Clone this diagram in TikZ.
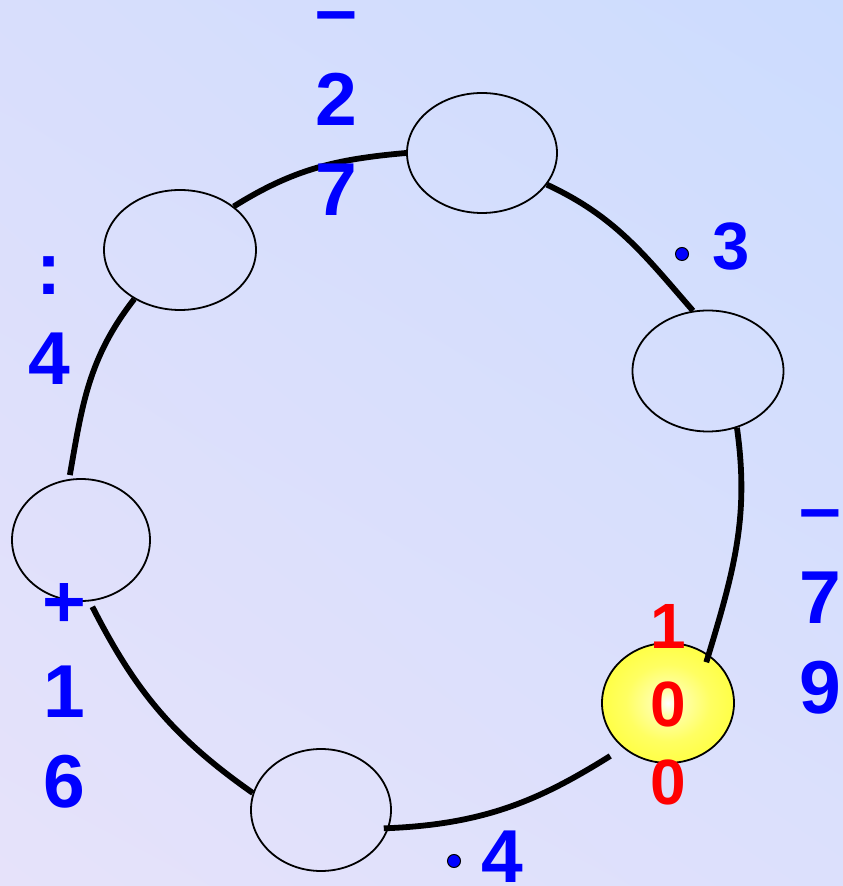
\documentclass[tikz,border=0pt]{standalone}
\usepackage{fontspec}
\setmainfont{Liberation Sans}
\usetikzlibrary{shapes.geometric,shadings}
\tikzset{>=latex}
\definecolor{bgLL}{HTML}{E6E2FA}
\definecolor{bgLR}{HTML}{DCE0FC}
\definecolor{bgUL}{HTML}{D8DEFC}
\definecolor{bgUR}{HTML}{CCDCFE}
\definecolor{ylw}{RGB}{255,255,70}
\pgfdeclareradialshading{yellowglow}{\pgfpoint{0bp}{0bp}}{color(0bp)=(white); color(5bp)=(ylw!45!white); color(16bp)=(ylw!85!white); color(25bp)=(ylw); color(50bp)=(ylw)}

\begin{document}
\begin{tikzpicture}[x=1pt,y=1pt]
\useasboundingbox (0,0) rectangle (843,886);
\shade[lower left=bgLL,lower right=bgLR,upper left=bgUL,upper right=bgUR] (0,0) rectangle (843,886);
\begin{scope}[every node/.style={ellipse,draw,line width=1.8pt,inner sep=0pt}]
\node[minimum width=150,minimum height=120] (E1) at (482,733) {};
\node[minimum width=152,minimum height=120] (E2) at (180,636) {};
\node[minimum width=151,minimum height=121] (E3) at (708,515) {};
\node[minimum width=138,minimum height=122] (E4) at (81,346) {};
\node[minimum width=140,minimum height=122] (E5) at (321,76) {};
\node[minimum width=132,minimum height=120,shading=yellowglow] (E6) at (668,183) {};
\end{scope}
\begin{scope}[line width=5.8pt,every edge/.style={draw=black,line width=5.8pt}]
    \path (E2.39) edge [out=32,in=185] (E1.180);
    \path (E1.-26) edge [out=-25,in=131] (E3.104);
    \path (E3.-63) edge [out=-82,in=73,shorten >=-8pt] (E6.50);
    \path (E6.-135) edge [out=-148,in=2,shorten <=15pt,shorten >=-5pt] (E5.-15);
    \path (E5.166) edge [out=145,in=-63,shorten >=6pt] (E4.-82);
    \path (E4.101) edge [out=80,in=-128,shorten <=4pt] (E2.-133);
\end{scope}
% operations
\begin{scope}[every node/.style={text=blue,font=\fontsize{75}{90}\selectfont\bfseries,align=center,anchor=base,inner sep=0pt}]
\node (lblSub) at (336,670) {–\\2\\7};
\node (lblDiv) at (49,501) {:\\4};
\node (lblSubR) at (820,172) {–\\7\\9};
\node (lblAdd) at (64,78) {+\\1\\6};
\node[font=\fontsize{67}{80}\selectfont\bfseries] (lblMulA) at (731,616) {3};
\node (lblMulB) at (502,4) {4};
\node[text=red,font=\fontsize{64}{78}\selectfont\bfseries] (lblStart) at (668,81) {1\\0\\0};
\end{scope}
\begin{scope}[every node/.style={circle,fill=blue,draw=black,line width=1pt,minimum size=13pt,inner sep=0pt}]
\node (dotA) at (682,632) {};
\node (dotB) at (454,25) {};
\end{scope}
\end{tikzpicture}
\end{document}
